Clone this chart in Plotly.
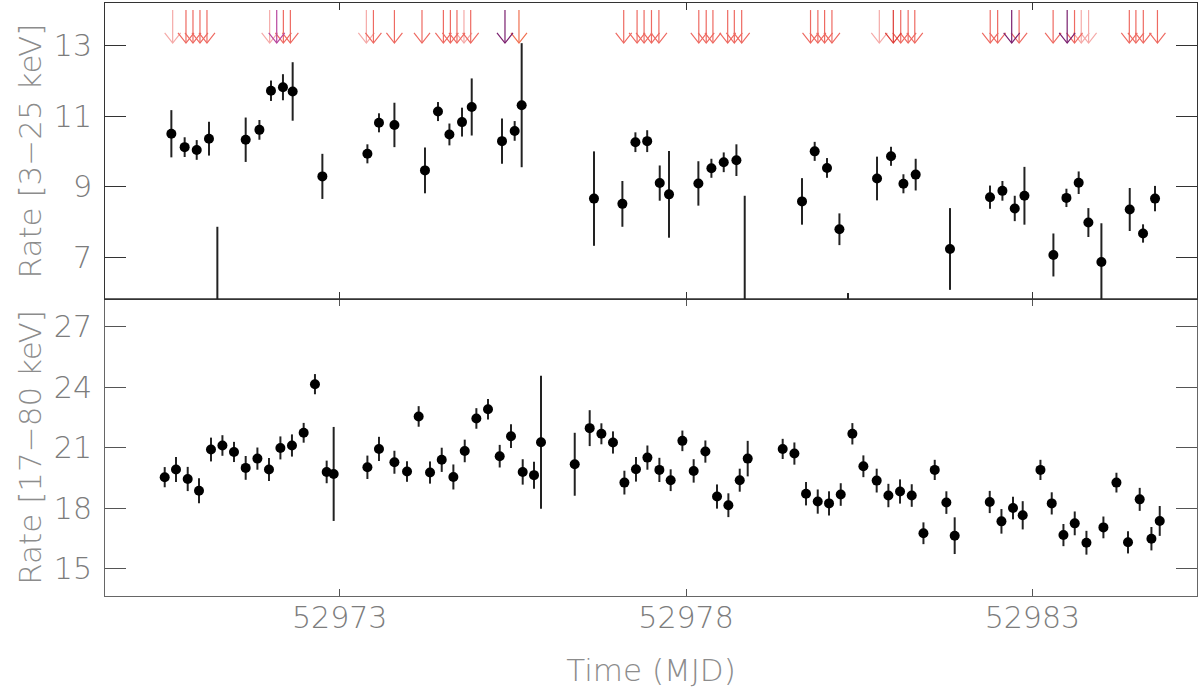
import plotly.graph_objects as go

# ---------------- data ----------------
# Top panel: Rate [3-25 keV]
soft_mjd = [52970.570, 52970.762, 52970.936, 52971.113, 52971.234, 52971.643, 52971.841,
            52972.008, 52972.181, 52972.321, 52972.750, 52973.400, 52973.567, 52973.790,
            52974.231, 52974.419, 52974.584, 52974.766, 52974.906, 52975.343, 52975.526,
            52975.627, 52976.671, 52977.081, 52977.269, 52977.439, 52977.620, 52977.754,
            52978.178, 52978.366, 52978.544, 52978.727, 52978.847, 52979.674, 52979.857,
            52980.035, 52980.214, 52980.338, 52980.757, 52980.959, 52981.138, 52981.315,
            52981.810, 52982.388, 52982.567, 52982.745, 52982.885, 52983.303, 52983.491,
            52983.668, 52983.808, 52983.996, 52984.405, 52984.597, 52984.770]
soft_rate = [10.51, 10.13, 10.05, 10.37, 4.90, 10.34, 10.62,
             11.73, 11.83, 11.71, 9.30, 9.94, 10.82, 10.76,
             9.47, 11.14, 10.49, 10.84, 11.27, 10.30, 10.59,
             11.32, 8.67, 8.52, 10.27, 10.30, 9.11, 8.79,
             9.10, 9.53, 9.70, 9.76, 5.40, 8.59, 10.01,
             9.54, 7.80, 4.90, 9.24, 9.87, 9.09, 9.35,
             7.24, 8.71, 8.89, 8.39, 8.75, 7.07, 8.69,
             9.12, 7.99, 6.87, 8.36, 7.68, 8.67]
soft_err = [0.67, 0.28, 0.28, 0.48, 2.97, 0.63, 0.28,
            0.29, 0.37, 0.83, 0.64, 0.27, 0.27, 0.63,
            0.65, 0.27, 0.31, 0.41, 0.81, 0.64, 0.28,
            1.76, 1.34, 0.65, 0.28, 0.31, 0.50, 1.23,
            0.63, 0.27, 0.28, 0.45, 3.35, 0.66, 0.27,
            0.28, 0.45, 1.09, 0.62, 0.27, 0.27, 0.45,
            1.16, 0.33, 0.28, 0.36, 0.82, 0.61, 0.26,
            0.32, 0.41, 1.10, 0.61, 0.26, 0.36]

# Bottom panel: Rate [17-80 keV]
hard_mjd = [52970.474, 52970.637, 52970.806, 52970.969, 52971.142, 52971.307, 52971.474,
            52971.643, 52971.812, 52971.979, 52972.144, 52972.311, 52972.480, 52972.643,
            52972.812, 52972.913, 52973.400, 52973.567, 52973.790, 52973.972, 52974.140,
            52974.304, 52974.473, 52974.641, 52974.805, 52974.973, 52975.141, 52975.310,
            52975.473, 52975.642, 52975.805, 52975.906, 52976.393, 52976.609, 52976.778,
            52976.945, 52977.110, 52977.277, 52977.442, 52977.615, 52977.778, 52977.947,
            52978.110, 52978.279, 52978.447, 52978.611, 52978.775, 52978.890, 52979.395,
            52979.564, 52979.732, 52979.901, 52980.064, 52980.233, 52980.401, 52980.560,
            52980.752, 52980.921, 52981.089, 52981.258, 52981.427, 52981.590, 52981.758,
            52981.878, 52982.384, 52982.553, 52982.720, 52982.860, 52983.116, 52983.279,
            52983.448, 52983.611, 52983.780, 52984.025, 52984.213, 52984.380, 52984.549,
            52984.718, 52984.838]
hard_rate = [19.54, 19.92, 19.45, 18.87, 20.91, 21.11, 20.79,
             20.00, 20.46, 19.92, 20.99, 21.11, 21.74, 24.15,
             19.80, 19.70, 20.03, 20.94, 20.28, 19.82, 22.55,
             19.77, 20.40, 19.55, 20.84, 22.45, 22.91, 20.58,
             21.57, 19.80, 19.64, 21.27, 20.18, 21.97, 21.69,
             21.26, 19.27, 19.93, 20.51, 19.90, 19.39, 21.34,
             19.85, 20.81, 18.58, 18.15, 19.39, 20.46, 20.94,
             20.71, 18.72, 18.33, 18.24, 18.68, 21.69, 20.08,
             19.37, 18.63, 18.83, 18.63, 16.76, 19.90, 18.28,
             16.64, 18.31, 17.35, 18.01, 17.65, 19.90, 18.24,
             16.67, 17.25, 16.29, 17.05, 19.27, 16.31, 18.44,
             16.49, 17.37]
hard_err = [0.50, 0.62, 0.60, 0.62, 0.59, 0.51, 0.50,
            0.59, 0.55, 0.57, 0.57, 0.55, 0.49, 0.50,
            0.56, 2.33, 0.58, 0.60, 0.57, 0.51, 0.51,
            0.55, 0.60, 0.62, 0.56, 0.51, 0.51, 0.56,
            0.59, 0.63, 0.67, 3.30, 1.56, 0.89, 0.52,
            0.55, 0.59, 0.61, 0.60, 0.60, 0.54, 0.51,
            0.58, 0.55, 0.60, 0.59, 0.57, 0.88, 0.50,
            0.55, 0.58, 0.60, 0.60, 0.56, 0.53, 0.54,
            0.59, 0.58, 0.60, 0.56, 0.54, 0.50, 0.56,
            0.91, 0.55, 0.61, 0.56, 0.70, 0.50, 0.55,
            0.55, 0.59, 0.59, 0.54, 0.49, 0.55, 0.57,
            0.58, 0.74]

# Arrow markers along the top of the upper panel
arrow_mjd = [52970.589, 52970.781, 52970.882, 52970.983, 52971.084,
             52971.989, 52972.091, 52972.187, 52972.288,
             52973.385, 52973.487, 52973.790, 52974.188,
             52974.497, 52974.598, 52974.693, 52974.794, 52974.891,
             52975.386, 52975.588,
             52977.100, 52977.293, 52977.394, 52977.501, 52977.608,
             52978.184, 52978.291, 52978.388, 52978.601, 52978.697, 52978.803,
             52979.797, 52979.903, 52980.000, 52980.106,
             52980.790, 52980.992, 52981.099, 52981.206, 52981.302,
             52982.391, 52982.498, 52982.701, 52982.808,
             52983.299, 52983.502, 52983.608, 52983.705, 52983.811,
             52984.399, 52984.494, 52984.601, 52984.805]
arrow_kind = ["pink", "red", "red", "red", "red",
              "pink", "magenta", "red", "red",
              "pink", "red", "red", "red",
              "red", "red", "red", "pink", "red",
              "purple", "orange",
              "red", "red", "red", "red", "red",
              "red", "red", "red", "red", "red", "red",
              "red", "red", "red", "red",
              "pink", "darkred", "red", "red", "red",
              "red", "red", "purple", "red",
              "red", "purple", "red", "pink", "pink",
              "red", "red", "red", "red"]

x_tickvals = [52973, 52978, 52983]
x_ticktext = ["52973", "52978", "52983"]

# ---------------- style ----------------
kind_color = {"pink": "#f5aaa8", "red": "#ee6a62", "darkred": "#dd3a34",
              "orange": "#f07050", "magenta": "#b8479e", "purple": "#7a1f6e"}
TICKFONT = dict(family="DejaVu Sans", size=30, color="#7c7c7c", weight=200)
TITLEFONT = dict(family="DejaVu Sans", size=31, color="#8c8c8c", weight=200)
X_RANGE = [52969.612, 52985.376]
SHAFT_TOP, TIP, HEAD_TOP, HEAD_HALF = 14.02, 13.085, 13.37, 0.1155

fig = go.Figure()

fig.add_trace(go.Scatter(
    x=soft_mjd, y=soft_rate, mode="markers",
    marker=dict(color="black", size=10),
    error_y=dict(type="data", array=soft_err, width=0, thickness=2, color="#222"),
    xaxis="x2", yaxis="y2", showlegend=False))

fig.add_trace(go.Scatter(
    x=hard_mjd, y=hard_rate, mode="markers",
    marker=dict(color="black", size=10),
    error_y=dict(type="data", array=hard_err, width=0, thickness=2, color="#222"),
    xaxis="x", yaxis="y", showlegend=False))

for kind, col in kind_color.items():
    xs, ys = [], []
    for m, k in zip(arrow_mjd, arrow_kind):
        if k != kind:
            continue
        xs += [m, m, None, m - HEAD_HALF, m, m + HEAD_HALF, None]
        ys += [SHAFT_TOP, TIP, None, HEAD_TOP, TIP, HEAD_TOP, None]
    if xs:
        fig.add_trace(go.Scatter(x=xs, y=ys, mode="lines",
                                 line=dict(color=col, width=1.2),
                                 xaxis="x2", yaxis="y2", showlegend=False,
                                 hoverinfo="skip"))

common_x = dict(range=X_RANGE, tickvals=x_tickvals, ticktext=x_ticktext,
                ticks="inside", ticklen=7,
                showline=True, mirror="allticks", showgrid=False, zeroline=False,
                automargin=False)
common_y = dict(ticks="inside", ticklen=21, showline=True, mirror="allticks",
                showgrid=False, zeroline=False, automargin=False, tickfont=TICKFONT,
                ticklabelstandoff=6)
fig.update_layout(
    width=1200, height=690,
    margin=dict(l=105, r=3, t=3, b=94),
    paper_bgcolor="white", plot_bgcolor="white",
    font=TICKFONT,
    xaxis=dict(**common_x, anchor="y", linecolor="#666", tickcolor="#555",
               tickfont=TICKFONT, ticklabelstandoff=-5,
               title=dict(text="Time (MJD)", font=TITLEFONT, standoff=25)),
    xaxis2=dict(**common_x, anchor="y2", matches="x", showticklabels=False,
                linecolor="#333", tickcolor="#333"),
    yaxis=dict(**common_y, anchor="x", domain=[0, 0.5008], range=[13.65, 28.37],
               tickvals=[15, 18, 21, 24, 27], linecolor="#666", tickcolor="#555",
               title=dict(text="Rate [17\u221280 keV]", font=TITLEFONT, standoff=2)),
    yaxis2=dict(**common_y, anchor="x2", domain=[0.5008, 1], range=[5.82, 14.22],
                tickvals=[7, 9, 11, 13], linecolor="#333", tickcolor="#333",
                title=dict(text="Rate [3\u221225 keV]", font=TITLEFONT, standoff=2)),
)

fig.write_html("out.html", config={"displayModeBar": False},
               post_script="document.body.style.margin='0px';")
